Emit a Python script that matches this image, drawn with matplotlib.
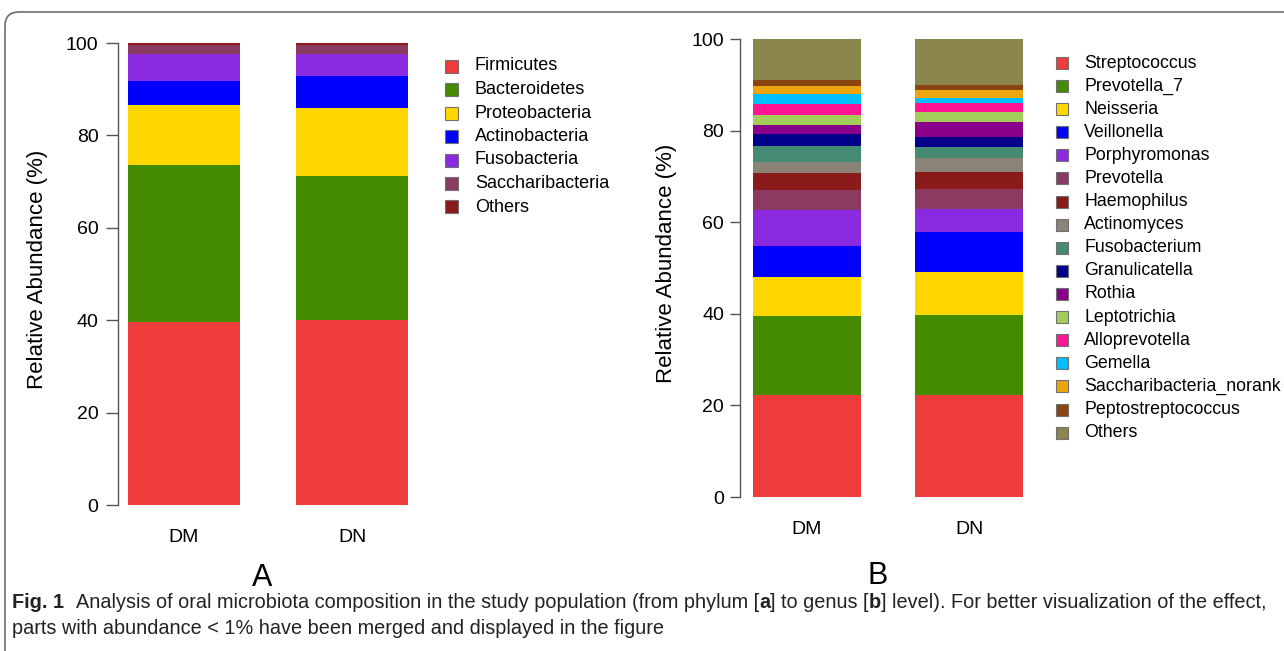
import matplotlib
matplotlib.use("Agg")
import matplotlib.pyplot as plt
from matplotlib.patches import Rectangle, FancyBboxPatch
from matplotlib.transforms import IdentityTransform
from matplotlib import font_manager

plt.rcParams['font.family'] = ['Liberation Sans', 'DejaVu Sans']

groups = ['DM', 'DN']

# panel A - phylum level
phyla = ['Firmicutes', 'Bacteroidetes', 'Proteobacteria', 'Actinobacteria',
         'Fusobacteria', 'Saccharibacteria', 'Others']
phylum_dm = [39.6, 34.0, 13.0, 5.2, 5.8, 2.0, 0.4]
phylum_dn = [40.0, 31.2, 14.7, 7.0, 4.7, 2.0, 0.4]
phylum_colors = ['#EE3B3B', '#458B00', '#FFD700', '#0000FF',
                 '#8A2BE2', '#8B3A62', '#8B1A1A']

# panel B - genus level
genera = ['Streptococcus', 'Prevotella_7', 'Neisseria', 'Veillonella',
          'Porphyromonas', 'Prevotella', 'Haemophilus', 'Actinomyces',
          'Fusobacterium', 'Granulicatella', 'Rothia', 'Leptotrichia',
          'Alloprevotella', 'Gemella', 'Saccharibacteria_norank',
          'Peptostreptococcus', 'Others']
genus_dm = [22.3, 17.2, 8.6, 6.7, 7.9, 4.3, 3.7, 2.5, 3.4, 2.7, 1.9,
            2.3, 2.2, 2.3, 1.8, 1.2, 9.0]
genus_dn = [22.3, 17.4, 9.5, 8.6, 5.1, 4.3, 3.8, 3.0, 2.4, 2.3, 3.1,
            2.3, 1.9, 1.2, 1.7, 1.1, 10.0]
genus_colors = ['#EE3B3B', '#458B00', '#FFD700', '#0000FF', '#8A2BE2',
                '#8B3A62', '#8B1A1A', '#8B8378', '#458B74', '#00008B',
                '#8B008B', '#A2CD5A', '#FF1493', '#00BFFF', '#EDA50F',
                '#8B4513', '#8B864E']

yticks = [0, 20, 40, 60, 80, 100]

W, H = 1284, 651
fig = plt.figure(figsize=(W / 100, H / 100), dpi=100)


def px_axes(left, top, right, bottom):
    return fig.add_axes([left / W, 1 - bottom / H, (right - left) / W, (bottom - top) / H])


def stacked(ax, dm, dn, colors, xlim, ticklen, tickpad):
    pos = [0, 1.5]
    bottoms = [0.0, 0.0]
    for a, b, c in zip(dm, dn, colors):
        ax.bar(pos, [a, b], width=1, bottom=bottoms, color=c, linewidth=0)
        bottoms = [bottoms[0] + a, bottoms[1] + b]
    ax.set_xlim(*xlim)
    ax.set_ylim(0, 100)
    for s in ['top', 'right', 'bottom']:
        ax.spines[s].set_visible(False)
    ax.spines['left'].set_color('#555555')
    ax.spines['left'].set_linewidth(1.0)
    ax.set_yticks(yticks)
    ax.tick_params(axis='y', length=ticklen, width=1.0, color='#555555',
                   pad=tickpad, labelsize=14)
    ax.set_xticks(pos)
    ax.set_xticklabels(groups)
    ax.tick_params(axis='x', length=0, pad=17, labelsize=14)
    ax.set_ylabel('Relative Abundance (%)', fontsize=16)


def legend(names, colors, xbox, y0, dy, box, xtext, fs):
    for i, (n, c) in enumerate(zip(names, colors)):
        y = y0 + i * dy
        fig.patches.append(Rectangle(((xbox - box / 2) / W, 1 - (y + box / 2) / H),
                                     box / W, box / H, transform=fig.transFigure,
                                     facecolor=c, edgecolor='#707070', linewidth=0.8))
        fig.text(xtext / W, 1 - y / H, n, ha='left', va='center', fontsize=fs)


axA = px_axes(118, 43, 418, 505)
stacked(axA, phylum_dm, phylum_dn, phylum_colors, (-0.589, 2.089), 9, 5)
axA.yaxis.set_label_coords(-0.232, 0.51)
legend(phyla, phylum_colors, 451, 66, 23.5, 13, 475, 13)

axB = px_axes(740, 39, 1034, 497)
stacked(axB, genus_dm, genus_dn, genus_colors, (-0.62, 2.1), 7.5, 4)
axB.yaxis.set_label_coords(-0.213, 0.51)
legend(genera, genus_colors, 1062, 63, 23.1, 12, 1084, 12.8)

# panel letters
fig.text(262 / W, 1 - 578 / H, 'A', ha='center', va='center', fontsize=22)
fig.text(878 / W, 1 - 576 / H, 'B', ha='center', va='center', fontsize=22)

# rounded frame
fig.patches.append(FancyBboxPatch((5, -30), 1320, 651 - 12 + 30,
                                  boxstyle='round,pad=0,rounding_size=14',
                                  transform=IdentityTransform(), facecolor='none',
                                  edgecolor='#6e6e6e', linewidth=1.2))

# caption
names = {f.name for f in font_manager.fontManager.ttflist}
cap_font = 'Liberation Sans Narrow' if 'Liberation Sans Narrow' in names else 'Liberation Sans'
line1 = [('Fig. 1', 'bold', False), ('Analysis of oral microbiota composition in the study population (from phylum [', 'normal', True),
         ('a', 'bold', False), ('] to genus [', 'normal', False), ('b', 'bold', False),
         ('] level). For better visualization of the effect,', 'normal', False)]
line2 = 'parts with abundance < 1% have been merged and displayed in the figure'

renderer = fig.canvas.get_renderer()


def draw_pieces(pieces, x0, y, fs):
    probe1 = fig.text(0, 0, 'x x', fontsize=fs, family=cap_font)
    probe2 = fig.text(0, 0, 'xx', fontsize=fs, family=cap_font)
    sp = probe1.get_window_extent(renderer).width - probe2.get_window_extent(renderer).width
    probe1.remove()
    probe2.remove()
    x = x0
    texts = []
    for txt, wt, gap in pieces:
        if gap:
            x += 2.2 * sp
        t = fig.text(x / W, 1 - y / H, txt, fontsize=fs, fontweight=wt,
                     family=cap_font, ha='left', va='center', color='#222222')
        x = t.get_window_extent(renderer).x1
        texts.append(t)
    return texts, x


fs = 12
texts, xend = draw_pieces(line1, 12, 603, fs)
scale = (1261 - 12) / (xend - 12)
for t in texts:
    t.remove()
fs = fs * scale
draw_pieces(line1, 12, 603, fs)
fig.text(12 / W, 1 - 628 / H, line2, fontsize=fs, family=cap_font,
         ha='left', va='center', color='#222222')

fig.savefig('out.png', dpi=100)
